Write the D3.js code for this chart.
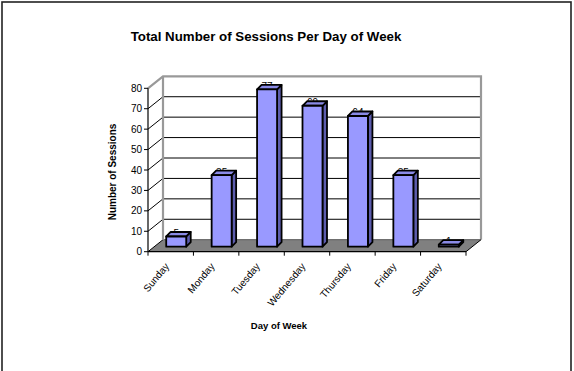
<!DOCTYPE html>
<html><head><meta charset="utf-8">
<script src="https://cdn.jsdelivr.net/npm/d3@7"></script>
<style>html,body{margin:0;padding:0;background:#fff;}svg{display:block;font-family:Arial,"Liberation Sans",sans-serif;}</style>
</head><body>
<script>
const categories = ["Sunday","Monday","Tuesday","Wednesday","Thursday","Friday","Saturday"];
const sessions = [5,35,77,69,64,35,1];
const yTicks = [0,10,20,30,40,50,60,70,80];
const titleText = "Total Number of Sessions Per Day of Week";
const xTitle = "Day of Week";
const yTitle = "Number of Sessions";

const W = 574, H = 371;
const svg = d3.select("body").append("svg").attr("width", W).attr("height", H);

// outer border
svg.append("rect").attr("x",2).attr("y",2).attr("width",569).attr("height",380)
  .attr("fill","none").attr("stroke","#222").attr("stroke-width",1.6);

const x = d3.scaleBand().domain(categories).range([148, 466]).padding(0);
const y = d3.scaleLinear().domain([0, 80]).range([251.7, 88.3]);
const DX = 15, DY = -12;      // wall depth
const BX = 5.5, BY = -5;      // bar front offset
const bdx = 4.5, bdy = -4.5;  // bar depth
const bw = 20;

const g = svg.append("g");

// floor
const x0 = x.range()[0], x1 = x.range()[1], y0 = y(0);
g.append("path").attr("d", `M${x0},${y0}L${x1},${y0}L${x1+DX},${y0+DY}L${x0+DX},${y0+DY}Z`)
  .attr("fill","#808080").attr("stroke","none");

// back wall gridlines
yTicks.forEach(t => {
  if (t === 80) return;
  g.append("line").attr("x1", x0+DX).attr("x2", x1+DX).attr("y1", y(t)+DY).attr("y2", y(t)+DY)
    .attr("stroke", t===0 ? "#555" : "#000").attr("stroke-width",1);
  g.append("line").attr("x1", x0).attr("x2", x0+DX).attr("y1", y(t)).attr("y2", y(t)+DY)
    .attr("stroke","#000").attr("stroke-width",1);
});
// wall outline (gray)
g.append("path").attr("d", `M${x0},${y(80)}L${x0+DX},${y(80)+DY}L${x1+DX},${y(80)+DY}L${x1+DX},${y0+DY}`)
  .attr("fill","none").attr("stroke","#999").attr("stroke-width",2.2);
g.append("line").attr("x1",x0+DX).attr("x2",x0+DX).attr("y1",y(80)+DY).attr("y2",y0+DY)
  .attr("stroke","#999").attr("stroke-width",2.2);
// floor right edge
g.append("line").attr("x1",x1).attr("y1",y0).attr("x2",x1+DX).attr("y2",y0+DY)
  .attr("stroke","#000").attr("stroke-width",1);

// y axis
g.append("line").attr("x1",x0).attr("x2",x0).attr("y1",y(80)).attr("y2",y0).attr("stroke","#000").attr("stroke-width",1.2);
yTicks.forEach(t => {
  g.append("line").attr("x1",x0-4).attr("x2",x0).attr("y1",y(t)).attr("y2",y(t)).attr("stroke","#000");
  g.append("text").attr("x",x0-6).attr("y",y(t)+3.5).attr("text-anchor","end")
    .attr("font-size","10px").attr("fill","#000").text(t);
});
// x axis
g.append("line").attr("x1",x0).attr("x2",x1).attr("y1",y0).attr("y2",y0).attr("stroke","#000").attr("stroke-width",1.2);
categories.concat([null]).forEach((c,i) => {
  const xx = c ? x(c) : x1;
  g.append("line").attr("x1",xx).attr("x2",xx).attr("y1",y0).attr("y2",y0+4).attr("stroke","#000");
});
categories.forEach(c => {
  const cx = x(c) + x.bandwidth()/2 - 1;
  g.append("text").attr("transform",`translate(${cx},${y0+15}) rotate(-50)`)
    .attr("text-anchor","end").attr("font-size","10px").attr("fill","#000").text(c);
});

// data labels (behind bars)
categories.forEach((c,i) => {
  const cx = x(c) + x.bandwidth()/2 + BX;
  g.append("text").attr("x",cx).attr("y",y(sessions[i])+BY+0.5).attr("text-anchor","middle")
    .attr("font-size","10px").attr("fill","#000").text(sessions[i]);
});

// bars
categories.forEach((c,i) => {
  const cx = x(c) + x.bandwidth()/2 + BX;
  const l = cx - bw/2, r = cx + bw/2;
  const b = y(0) + BY, t = y(sessions[i]) + BY;
  const bg = g.append("g").attr("stroke","#000").attr("stroke-width",1.8).attr("stroke-linejoin","round");
  bg.append("path").attr("d",`M${r},${b}L${r+bdx},${b+bdy}L${r+bdx},${t+bdy}L${r},${t}Z`).attr("fill","#5c5cad");
  bg.append("path").attr("d",`M${l},${t}L${l+bdx},${t+bdy}L${r+bdx},${t+bdy}L${r},${t}Z`).attr("fill","#8a8ae6");
  bg.append("rect").attr("x",l).attr("y",t).attr("width",bw).attr("height",b-t).attr("fill","#9999ff");
});

// titles
svg.append("text").attr("x",266).attr("y",41).attr("text-anchor","middle")
  .attr("font-size","13.3px").attr("font-weight","bold").text(titleText);
svg.append("text").attr("x",279).attr("y",329).attr("text-anchor","middle")
  .attr("font-size","9.5px").attr("font-weight","bold").text(xTitle);
svg.append("text").attr("transform","translate(116,172) rotate(-90)").attr("text-anchor","middle")
  .attr("font-size","10px").attr("font-weight","bold").text(yTitle);
</script>
</body></html>
